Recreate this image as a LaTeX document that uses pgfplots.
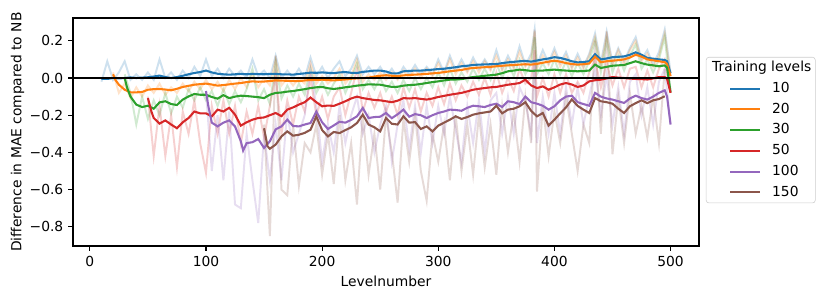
\documentclass[border=0pt]{standalone}
\usepackage{pgfplots}
\pgfplotsset{compat=1.18}
\usepackage{pgfplotstable}
\usepackage{fontspec}
\setmainfont{DejaVu Sans}
\definecolor{c1}{HTML}{1F77B4}
\definecolor{c2}{HTML}{FF7F0E}
\definecolor{c3}{HTML}{2CA02C}
\definecolor{c4}{HTML}{D62728}
\definecolor{c5}{HTML}{9467BD}
\definecolor{c6}{HTML}{8C564B}

\pgfplotstableread{
x b o g r p n
10 -0.005 nan nan nan nan nan
15 -0.005 nan nan nan nan nan
20 0.000 0.020 nan nan nan nan
22 nan -0.010 nan nan nan nan
25 -0.002 -0.036 nan nan nan nan
30 0.000 -0.063 0.000 nan nan nan
32 nan nan -0.050 nan nan nan
35 0.003 -0.077 -0.100 nan nan nan
40 0.000 -0.077 -0.143 nan nan nan
45 0.002 -0.075 -0.156 nan nan nan
50 0.004 -0.063 -0.149 -0.108 nan nan
53 nan nan nan -0.180 nan nan
55 0.008 -0.060 -0.165 -0.215 nan nan
60 0.013 -0.059 -0.131 -0.245 nan nan
65 0.005 -0.062 -0.125 -0.228 nan nan
70 0.000 -0.066 -0.140 -0.250 nan nan
75 0.005 -0.058 -0.145 -0.270 nan nan
80 0.012 -0.048 -0.116 -0.238 nan nan
85 0.020 -0.042 -0.099 -0.215 nan nan
90 0.027 -0.036 -0.086 -0.180 nan nan
95 0.032 -0.033 -0.090 -0.190 nan nan
100 0.040 -0.030 -0.090 -0.190 -0.070 nan
102 nan nan nan nan -0.150 nan
105 0.030 -0.035 -0.102 -0.206 -0.240 nan
110 0.023 -0.041 -0.111 -0.170 -0.260 nan
115 0.020 -0.038 -0.092 -0.180 -0.240 nan
120 0.018 -0.034 -0.108 -0.160 -0.228 nan
125 0.020 -0.030 -0.100 -0.197 -0.260 nan
130 0.022 -0.027 -0.095 -0.256 -0.340 nan
132 nan nan nan nan -0.390 nan
135 0.020 -0.022 -0.097 -0.238 -0.350 nan
140 0.022 -0.018 -0.100 -0.224 -0.345 nan
145 0.021 -0.020 -0.103 -0.215 -0.328 nan
150 0.020 -0.019 -0.108 -0.212 -0.376 -0.270
153 nan nan nan nan nan -0.367
155 0.022 -0.016 -0.090 -0.200 -0.340 -0.380
160 0.022 -0.013 -0.080 -0.188 -0.276 -0.358
165 0.020 -0.014 -0.078 -0.205 -0.260 -0.314
170 0.020 -0.015 -0.073 -0.170 -0.224 -0.287
175 0.018 -0.016 -0.070 -0.158 -0.258 -0.310
180 0.022 -0.017 -0.065 -0.143 -0.260 -0.305
185 0.025 -0.013 -0.060 -0.130 -0.250 -0.295
190 0.029 -0.011 -0.054 -0.105 -0.242 -0.278
195 0.028 -0.010 -0.050 -0.130 -0.180 -0.206
200 0.030 -0.009 -0.048 -0.152 -0.238 -0.280
205 0.028 -0.011 -0.055 -0.148 -0.274 -0.314
210 0.026 -0.013 -0.059 -0.150 -0.255 -0.290
215 0.030 -0.010 -0.055 -0.138 -0.235 -0.296
220 0.032 -0.008 -0.050 -0.125 -0.240 -0.280
225 0.028 -0.004 -0.046 -0.110 -0.225 -0.265
230 0.027 -0.002 -0.041 -0.100 -0.206 -0.242
235 0.033 0.000 -0.038 -0.108 -0.161 -0.197
240 0.036 0.002 -0.034 -0.113 -0.215 -0.250
245 0.040 0.008 -0.035 -0.118 -0.210 -0.265
250 0.040 0.012 -0.036 -0.120 -0.208 -0.287
255 0.035 0.015 -0.042 -0.125 -0.188 -0.215
260 0.025 0.012 -0.048 -0.130 -0.216 -0.246
265 0.025 0.010 -0.047 -0.122 -0.195 -0.250
270 0.036 0.014 -0.041 -0.108 -0.170 -0.206
275 0.038 0.017 -0.038 -0.110 -0.208 -0.240
280 0.040 0.018 -0.036 -0.108 -0.194 -0.237
285 0.040 0.020 -0.032 -0.112 -0.200 -0.274
290 0.042 0.022 -0.027 -0.116 -0.215 -0.260
295 0.045 0.025 -0.022 -0.110 -0.200 -0.287
300 0.048 0.027 -0.018 -0.102 -0.188 -0.256
305 0.050 0.032 -0.013 -0.096 -0.180 -0.240
310 0.054 0.036 -0.009 -0.090 -0.170 -0.224
315 0.058 0.040 -0.008 -0.085 -0.172 -0.206
320 0.063 0.043 -0.006 -0.080 -0.176 -0.220
325 0.066 0.050 0.000 -0.072 -0.160 -0.210
330 0.070 0.054 0.005 -0.063 -0.149 -0.197
335 0.072 0.056 0.008 -0.058 -0.152 -0.190
340 0.073 0.058 0.012 -0.054 -0.156 -0.185
345 0.074 0.060 0.015 -0.050 -0.145 -0.180
350 0.075 0.063 0.018 -0.048 -0.138 -0.149
355 0.080 0.066 0.026 -0.042 -0.156 -0.190
360 0.084 0.068 0.036 -0.036 -0.125 -0.170
365 0.087 0.070 0.040 -0.032 -0.130 -0.165
370 0.090 0.072 0.045 -0.027 -0.140 -0.152
375 0.092 0.074 0.042 -0.009 -0.100 -0.130
380 0.088 0.072 0.038 -0.040 -0.130 -0.177
385 0.094 0.076 0.040 -0.054 -0.138 -0.206
390 0.100 0.082 0.040 -0.045 -0.149 -0.188
395 0.105 0.088 0.043 -0.063 -0.170 -0.256
400 0.112 0.093 0.045 -0.050 -0.152 -0.224
405 0.108 0.088 0.042 -0.035 -0.120 -0.190
410 0.100 0.080 0.040 -0.027 -0.100 -0.158
415 0.090 0.075 0.038 -0.035 -0.095 -0.115
420 0.084 0.072 0.036 -0.048 -0.130 -0.150
425 0.086 0.074 0.038 -0.040 -0.140 -0.170
430 0.090 0.078 0.040 -0.018 -0.149 -0.188
435 0.128 0.115 0.072 -0.012 -0.080 -0.108
440 0.100 0.085 0.054 -0.009 -0.100 -0.125
445 0.105 0.090 0.060 -0.002 -0.110 -0.130
450 0.112 0.093 0.066 0.005 -0.116 -0.138
455 0.114 0.096 0.068 0.002 -0.125 -0.165
460 0.116 0.100 0.070 0.000 -0.134 -0.188
465 0.125 0.110 0.080 -0.003 -0.110 -0.152
470 0.138 0.125 0.090 -0.005 -0.095 -0.135
475 0.125 0.115 0.080 -0.006 -0.108 -0.120
480 0.108 0.100 0.072 -0.008 -0.116 -0.135
485 0.104 0.095 0.068 -0.002 -0.100 -0.120
490 0.100 0.090 0.063 0.005 -0.080 -0.113
495 0.097 0.085 0.068 0.005 -0.066 -0.098
497 0.090 0.075 0.055 -0.005 -0.100 nan
500 0.025 0.010 -0.077 -0.080 -0.250 nan
}\smoothed

\pgfplotstableread{
x b o g r p n
10 -0.02 nan nan nan nan nan
15 0.09 nan nan nan nan nan
20 -0.01 0.03 nan nan nan nan
25 0.03 -0.08 nan nan nan nan
30 0.09 -0.03 0.02 nan nan nan
35 -0.01 -0.11 -0.08 nan nan nan
40 0.02 -0.05 -0.25 nan nan nan
45 -0.01 -0.10 -0.10 nan nan nan
50 0.03 -0.04 -0.22 -0.10 nan nan
55 -0.01 -0.08 -0.12 -0.42 nan nan
60 0.10 -0.03 -0.20 -0.15 nan nan
65 0.00 -0.09 -0.08 -0.42 nan nan
70 0.03 -0.05 -0.19 -0.20 nan nan
75 -0.01 -0.08 -0.10 -0.48 nan nan
80 0.04 -0.03 -0.16 -0.18 nan nan
85 0.00 -0.07 -0.06 -0.30 nan nan
90 0.06 -0.02 -0.12 -0.12 nan nan
95 0.01 -0.06 -0.05 -0.35 nan nan
100 0.10 -0.01 -0.12 -0.51 -0.07 nan
105 0.01 -0.06 -0.07 -0.15 -0.50 nan
110 0.05 -0.02 -0.15 -0.30 -0.20 nan
115 0.00 -0.07 -0.06 -0.12 -0.55 nan
120 0.05 -0.01 -0.14 -0.30 -0.18 nan
125 0.01 -0.06 -0.07 -0.15 -0.68 nan
130 0.04 0.00 -0.13 -0.35 -0.70 nan
135 0.00 -0.05 -0.06 -0.18 -0.30 nan
140 0.10 0.02 0.05 -0.30 -0.55 nan
145 0.01 -0.05 -0.12 -0.15 -0.78 nan
150 0.04 0.00 -0.06 -0.32 -0.30 -0.25
155 0.00 -0.04 -0.14 -0.15 -0.55 -0.85
160 0.12 0.10 0.08 0.02 -0.25 0.12
165 0.00 -0.04 -0.11 -0.30 -0.55 -0.60
170 0.04 0.00 -0.04 -0.12 -0.18 -0.63
175 0.00 -0.04 -0.10 -0.25 -0.40 -0.25
180 0.05 0.00 -0.03 -0.10 -0.30 -0.58
185 0.00 -0.03 -0.09 -0.18 -0.20 -0.35
190 0.11 0.08 0.05 0.00 0.05 -0.40
195 0.01 -0.03 -0.08 -0.20 -0.15 -0.25
200 0.06 0.01 -0.02 -0.10 -0.45 -0.52
205 0.00 -0.03 -0.09 -0.22 -0.25 -0.30
210 0.05 0.00 -0.03 -0.10 -0.40 -0.57
215 0.09 0.05 0.02 -0.05 -0.15 -0.20
220 0.01 -0.03 -0.08 -0.20 -0.35 -0.55
225 0.05 0.01 -0.01 -0.08 -0.20 -0.35
230 0.12 0.10 0.08 0.05 -0.10 -0.68
235 0.02 -0.02 -0.06 -0.18 -0.30 -0.20
240 0.06 0.02 -0.01 -0.08 -0.20 -0.52
245 0.02 -0.01 -0.06 -0.16 -0.40 -0.30
250 0.06 0.03 0.00 -0.08 -0.25 -0.60
255 0.01 -0.01 -0.07 -0.18 -0.15 -0.20
260 0.05 0.03 -0.02 -0.10 -0.45 -0.40
265 0.00 -0.01 -0.08 -0.20 -0.25 -0.67
270 0.06 0.04 -0.01 -0.05 -0.12 -0.22
275 0.02 0.00 -0.07 -0.16 -0.38 -0.45
280 0.07 0.05 0.00 -0.06 -0.15 -0.20
285 0.02 0.00 -0.06 -0.18 -0.40 -0.50
290 0.06 0.05 0.00 -0.08 -0.15 -0.66
295 0.02 0.01 -0.05 -0.15 -0.35 -0.30
300 0.10 0.08 0.03 -0.05 -0.15 -0.45
305 0.03 0.02 -0.04 -0.14 -0.30 -0.25
310 0.12 0.10 0.05 -0.03 -0.10 -0.55
315 0.04 0.02 -0.03 -0.12 -0.28 -0.20
320 0.10 0.08 0.03 -0.04 -0.45 -0.50
325 0.04 0.03 -0.02 -0.10 -0.15 -0.25
330 0.11 0.09 0.05 -0.02 -0.35 -0.52
335 0.05 0.03 -0.01 -0.09 -0.12 -0.20
340 0.10 0.09 0.05 0.00 -0.40 -0.48
345 0.05 0.04 -0.01 -0.09 -0.12 -0.25
350 0.15 0.12 0.08 0.03 -0.08 -0.52
355 0.05 0.04 0.00 -0.08 -0.30 -0.15
360 0.12 0.10 0.08 0.00 -0.10 -0.40
365 0.06 0.05 0.01 -0.07 -0.30 -0.18
370 0.17 0.14 0.10 0.05 -0.05 -0.45
375 0.07 0.06 0.02 -0.03 -0.12 -0.10
380 0.13 0.11 0.08 0.00 -0.30 -0.35
383 0.26 0.25 0.22 0.15 0.10 0.26
385 0.07 0.05 0.02 -0.10 -0.35 -0.61
390 0.15 0.12 0.08 0.00 -0.10 -0.15
395 0.08 0.07 0.02 -0.10 -0.30 -0.42
400 0.16 0.14 0.10 0.02 -0.08 -0.18
405 0.08 0.06 0.02 -0.08 -0.30 -0.35
410 0.14 0.12 0.09 0.02 -0.05 -0.10
415 0.06 0.05 0.01 -0.08 -0.25 -0.30
420 0.13 0.11 0.08 -0.02 -0.05 -0.50
425 0.06 0.05 0.02 -0.08 -0.25 -0.25
430 0.13 0.12 0.09 0.03 -0.10 -0.35
435 0.24 0.22 0.20 0.10 0.05 0.20
440 0.08 0.06 0.03 -0.05 -0.20 -0.30
445 0.25 0.23 0.20 0.08 0.02 0.25
450 0.08 0.07 0.03 -0.04 -0.25 -0.41
455 0.16 0.15 0.12 0.05 -0.05 -0.10
460 0.09 0.07 0.04 -0.05 -0.30 -0.35
465 0.16 0.15 0.12 0.05 -0.02 -0.08
470 0.22 0.20 0.18 0.06 0.02 -0.30
475 0.10 0.09 0.05 -0.05 -0.20 -0.15
480 0.15 0.13 0.10 0.04 -0.05 -0.32
485 0.07 0.06 0.03 -0.05 -0.25 -0.10
490 0.14 0.12 0.10 0.05 -0.02 -0.35
495 0.26 0.24 0.22 0.10 0.05 0.05
500 0.03 0.01 -0.07 -0.08 -0.25 nan
}\raw

\begin{document}
\begin{tikzpicture}
\begin{axis}[
  scale only axis,
  width=6.26in, height=2.28in,
  xmin=-14.5, xmax=524.5, ymin=-0.903, ymax=0.3226,
  xtick={0,100,200,300,400,500},
  xticklabels={0,100,200,300,400,500},
  ytick={-0.8,-0.6,-0.4,-0.2,0,0.2},
  yticklabels={−0.8,−0.6,−0.4,−0.2,0.0,0.2},
  tick align=outside, xtick pos=bottom, ytick pos=left,
  major tick length=3.5pt,
  tick style={black, line width=0.8pt},
  axis line style={black, line width=0.8pt},
  font=\fontsize{10}{12}\selectfont,
  xlabel={Levelnumber},
  ylabel={Difference in MAE compared to NB},
  ylabel shift=-3pt,
  legend cell align=left,
  legend image code/.code={\path (0,0); \draw[#1] (0.19in,0) -- (0.49in,0);},
  legend style={at={(1.011,0.829)}, anchor=north west,
    draw=black!20, rounded corners=2pt, fill=white,
    inner sep=2.9pt, row sep=5.5pt, column sep=7.9pt,
    nodes={inner sep=0pt, text height=7.5pt, text depth=2pt},
    font=\fontsize{10}{12}\selectfont},
]
\addlegendimage{empty legend}
\addlegendentry{\hspace{-0.6in}Training levels}

\addplot[c1, line width=1.4pt, opacity=0.22, forget plot] table[x=x,y=b]{\raw};
\addplot[c2, line width=1.4pt, opacity=0.22, forget plot] table[x=x,y=o]{\raw};
\addplot[c3, line width=1.4pt, opacity=0.22, forget plot] table[x=x,y=g]{\raw};
\addplot[c4, line width=1.4pt, opacity=0.22, forget plot] table[x=x,y=r]{\raw};
\addplot[c5, line width=1.4pt, opacity=0.22, forget plot] table[x=x,y=p]{\raw};
\addplot[c6, line width=1.4pt, opacity=0.22, forget plot] table[x=x,y=n]{\raw};

\addplot[c1, line width=1.5pt] table[x=x,y=b]{\smoothed};
\addlegendentry{10}
\addplot[c2, line width=1.5pt] table[x=x,y=o]{\smoothed};
\addlegendentry{20}
\addplot[c3, line width=1.5pt] table[x=x,y=g]{\smoothed};
\addlegendentry{30}
\addplot[c4, line width=1.5pt] table[x=x,y=r]{\smoothed};
\addlegendentry{50}
\addplot[c5, line width=1.5pt] table[x=x,y=p]{\smoothed};
\addlegendentry{100}
\addplot[c6, line width=1.5pt] table[x=x,y=n]{\smoothed};
\addlegendentry{150}

\addplot[black, line width=1.5pt, forget plot] coordinates {(-14.5,0) (524.5,0)};
\end{axis}
\pgfresetboundingbox
\path ([shift={(-0.73in,-0.53in)}]current axis.south west) rectangle ([shift={(1.31in,0.18in)}]current axis.north east);
\end{tikzpicture}
\end{document}
